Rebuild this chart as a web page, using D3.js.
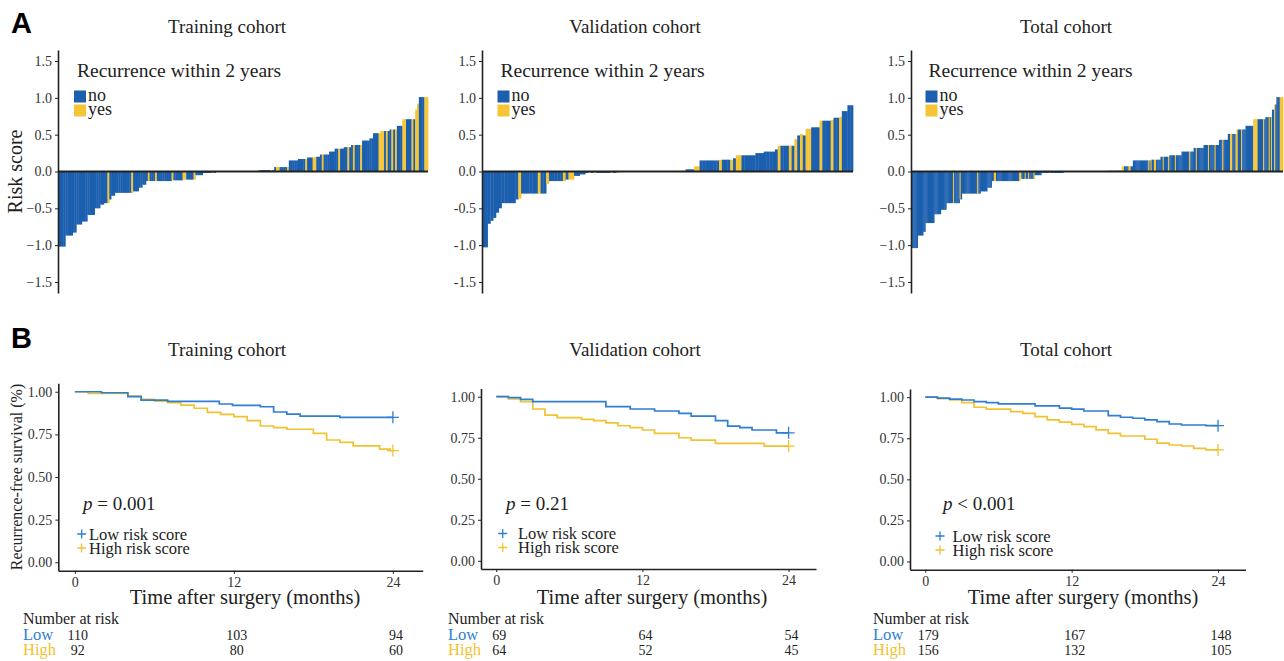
<!DOCTYPE html>
<html>
<head>
<meta charset="utf-8">
<script src="https://cdn.jsdelivr.net/npm/d3@7"></script>
<style>
  body { margin: 0; background: #fff; }
  text { font-family: "Liberation Serif", "Times New Roman", serif; }
</style>
</head>
<body>
<svg id="chart" width="1284" height="661"></svg>
<script>
// ---- waterfall data: risk score level, and one letter per patient (n = no recurrence, y = recurrence)
const trainLevels = [-1.02, -0.87, -0.83, -0.72, -0.68, -0.59, -0.50, -0.45, -0.43, -0.38, -0.33, -0.29, -0.27, -0.22, -0.18, -0.13,
  -0.13, -0.12, -0.11, -0.05, -0.02, 0, 0.02, 0.06, 0.15, 0.17, 0.19, 0.20, 0.23, 0.27, 0.31, 0.33, 0.36, 0.42, 0.45, 0.52,
  0.55, 0.57, 0.62, 0.71, 0.84, 0.92, 1.01, 1.01]
const trainRecur = ['nnnn', 'nnnn', 'nn', 'nnn', 'nnn', 'nnnn', 'nnn', 'nn', 'nny', 'n', 'nn', 'nnnnnnnnny', 'nnn', 'nn', 'nn', 'nyn',
  'nnynnnnnnnn', 'ynnnnn', 'yynnnny', 'nnnn', 'nnnnnyn', 'nnnnnnnnnnnnnnnnnnnnnnn', 'ynnnnnnyn', 'nyynnnny', 'nnnnn', 'nnnny', 'nnny', 'ynn', 'nynnn', 'nnn', 'nnynn', 'nnyn',
  'nynnny', 'nnnn', 'nn', 'nnny', 'yynyn', 'nyny', 'nnn', 'yynnnyn', 'y', 'y', 'nnn', 'yy']

const validLevels = [-1.03, -0.71, -0.67, -0.63, -0.56, -0.50, -0.43, -0.38, -0.37, -0.30, -0.30, -0.30, -0.17, -0.13, -0.11, -0.06,
  -0.04, -0.02, 0, 0.01, 0.03, 0.07, 0.15, 0.16, 0.16, 0.16, 0.18, 0.22, 0.22, 0.25, 0.27, 0.30, 0.35, 0.35, 0.35, 0.44,
  0.49, 0.51, 0.49, 0.58, 0.60, 0.69, 0.69, 0.70, 0.73, 0.74, 0.82, 0.90]
const validRecur = ['nn', 'n', 'n', 'n', 'n', 'n', 'nnnnn', 'n', 'y', 'nnnnnn', 'y', 'nn', 'y', 'nnnnny', 'nyy', 'nn',
  'nn', 'nynynnnnnyny', 'nnnnnnnnnnnnnnnnnnnnnn', 'yy', 'nnn', 'yy', 'nnnnnnn', 'y', 'nnn', 'y', 'n', 'yy', 'nnnnn', 'nnn', 'nnnn', 'n', 'y', 'nnny', 'n', 'y',
  'n', 'y', 'n', 'yy', 'nnn', 'y', 'nnn', 'y', 'nn', 'y', 'nn', 'nn']

const totalLevels = [-1.04, -0.87, -0.82, -0.70, -0.58, -0.52, -0.43, -0.43, -0.38, -0.30, -0.27, -0.22, -0.13, -0.13, -0.10, -0.05,
  -0.02, 0, 0.01, 0.07, 0.15, 0.16, 0.20, 0.22, 0.27, 0.32, 0.36, 0.43, 0.51, 0.57, 0.62, 0.71, 0.74, 0.84, 0.91, 1.01]
const totalRecur = ['nnnnnn', 'nnnnn', 'nn', 'nnnnnnnn', 'nnnnnn', 'nnnnn', 'nnnnnn', 'ynnnnn', 'yn', 'nnnnnnnnnnnnnnynn', 'nnnnnn', 'nnnn', 'nnyynn', 'nnnnnnnnnnnnnnnnnnny', 'ynnnynnynnnny', 'nnnnnn',
  'nnnnnnnynnnnnnnnnnnn', 'nnnnnnnnnnnnnnnnnnnnnnnnnnnnnnnnnnnnnnnn', 'nnnnynnnnnnnn', 'yynnnnyynn', 'nnnnnnnnnnnnnnyn', 'ynnyynnnn', 'nnynnnny', 'nnnnnynnnnn', 'nnnnnnnynnn', 'nnynnnnnn',
  'nnnnynnnnnynnn', 'nnnynnnn', 'nnyynnny', 'ynnnynnn', 'nnnnnnn', 'yyyynnnnnyn', 'nnnyny', 'nn', 'yn', 'nnnyyy']

const scoreTicks = [-1.5, -1, -0.5, 0, 0.5, 1, 1.5]

// ---- Kaplan-Meier data: step times (months) and survival after each step
const trainLowTimes = [0, 2, 4, 5, 7, 10.9, 11.9, 14, 15, 16, 17, 20, 24]
const trainLowSurv = [1, 0.994, 0.971, 0.951, 0.944, 0.928, 0.920, 0.912, 0.881, 0.869, 0.857, 0.850, 0.850]
const trainHighTimes = [0, 1, 4, 5, 6, 7, 8, 9, 10, 11, 12, 13, 14, 15, 16, 18, 19, 20, 21, 23, 23.8, 24]
const trainHighSurv = [1, 0.990, 0.975, 0.955, 0.945, 0.936, 0.922, 0.903, 0.879, 0.867, 0.854, 0.830, 0.799, 0.789, 0.780, 0.756, 0.717, 0.703, 0.682, 0.664, 0.655, 0.655]

const validLowTimes = [0, 1, 2, 3, 9, 11, 13, 15, 16, 18, 19, 20, 21, 23, 24]
const validLowSurv = [1, 0.994, 0.984, 0.970, 0.939, 0.925, 0.913, 0.899, 0.882, 0.854, 0.821, 0.811, 0.797, 0.780, 0.780]
const validHighTimes = [0, 1, 2, 3, 4, 5, 7, 8, 9, 10, 11, 12, 13, 15, 16, 18, 22, 24]
const validHighSurv = [1, 0.986, 0.970, 0.925, 0.888, 0.872, 0.862, 0.854, 0.841, 0.823, 0.811, 0.797, 0.777, 0.750, 0.736, 0.716, 0.699, 0.699]

const totalLowTimes = [0, 1, 2, 3, 4, 5, 6, 9, 11, 12, 13, 15, 16, 17, 18, 19, 20, 21, 23, 24]
const totalLowSurv = [1, 0.994, 0.988, 0.983, 0.973, 0.967, 0.959, 0.947, 0.933, 0.927, 0.916, 0.888, 0.878, 0.872, 0.862, 0.851, 0.837, 0.831, 0.827, 0.827]
const totalHighTimes = [0, 1, 2, 3, 4, 5, 7, 8, 9, 10, 11, 12, 13, 14, 15, 16, 18, 19, 20, 21, 22, 23, 24]
const totalHighSurv = [1, 0.991, 0.983, 0.967, 0.939, 0.927, 0.912, 0.902, 0.882, 0.862, 0.848, 0.835, 0.821, 0.801, 0.780, 0.764, 0.744, 0.720, 0.709, 0.703, 0.689, 0.679, 0.679]

const riskTimes = [0, 12, 24]
const trainRiskLow = [110, 103, 94]
const trainRiskHigh = [92, 80, 60]
const validRiskLow = [69, 64, 54]
const validRiskHigh = [64, 52, 45]
const totalRiskLow = [179, 167, 148]
const totalRiskHigh = [156, 132, 105]

const survTicks = [0, 0.25, 0.5, 0.75, 1]
const timeTicks = [0, 12, 24]

const cohortTitles = ['Training cohort', 'Validation cohort', 'Total cohort']
const pTexts = [['=', '0.001'], ['=', '0.21'], ['<', '0.001']]

// colours
const barBlue = '#1b5fae'
const barYellow = '#f6c535'
const lineBlue = '#2f7ed3'
const lineYellow = '#f1c232'
const ink = '#222'

const svg = d3.select('#chart')

// panel letters
svg.append('text').attr('x', 11).attr('y', 33).text('A')
  .style('font-family', 'Liberation Sans, Arial, sans-serif').style('font-weight', 'bold').style('font-size', '29px')
svg.append('text').attr('x', 11).attr('y', 348).text('B')
  .style('font-family', 'Liberation Sans, Arial, sans-serif').style('font-weight', 'bold').style('font-size', '29px')

/**
 * Waterfall of risk scores for one cohort
 */
function drawWaterfall (p, levels, recur, title) {
  const bars = []
  levels.forEach(function (v, i) {
    for (const c of recur[i]) bars.push({ score: v, yes: c === 'y' })
  })
  const x = d3.scaleBand().domain(d3.range(bars.length)).range([p.left, p.right]).padding(0)
  const y = d3.scaleLinear().domain([-1.65, 1.65]).range([293, 50])
  const g = svg.append('g')

  g.selectAll('rect.bar')
    .data(bars)
    .join('rect')
    .attr('class', 'bar')
    .attr('x', (d, i) => x(i))
    .attr('width', x.bandwidth() + 0.35)
    .attr('y', d => y(Math.max(0, d.score)))
    .attr('height', d => Math.abs(y(d.score) - y(0)))
    .attr('fill', d => d.yes ? barYellow : barBlue)

  const fmt = d3.format('.1f')
  const axis = g.append('g')
    .attr('transform', `translate(${p.left},0)`)
    .attr('color', ink)
    .call(d3.axisLeft(y).tickValues(scoreTicks).tickSize(3).tickSizeOuter(0)
      .tickFormat(d => p.hyphen ? fmt(d).replace('\u2212', '-') : fmt(d)))
  axis.select('.domain').attr('stroke-width', 1.6)
  axis.selectAll('text').style('font-size', '14px').attr('fill', '#333')

  // zero line
  g.append('line')
    .attr('x1', p.left).attr('x2', p.right)
    .attr('y1', y(0)).attr('y2', y(0))
    .attr('stroke', ink).attr('stroke-width', 2)

  g.append('text').attr('x', p.titleX).attr('y', 33).attr('text-anchor', 'middle')
    .style('font-size', '19px').attr('fill', ink).text(title)

  if (p.yLabel) {
    g.append('text').attr('transform', `translate(22,${y(0)}) rotate(-90)`).attr('text-anchor', 'middle')
      .style('font-size', '20px').attr('fill', ink).text('Risk score')
  }

  // legend
  g.append('text').attr('x', p.legendX + 3).attr('y', 77).style('font-size', '19.5px').attr('fill', ink)
    .text('Recurrence within 2 years')
  const keys = [['no', barBlue], ['yes', barYellow]]
  keys.forEach(function (k, i) {
    g.append('rect').attr('x', p.legendX).attr('y', 90.5 + i * 14).attr('width', 12).attr('height', 12).attr('fill', k[1])
    g.append('text').attr('x', p.legendX + 14).attr('y', 100.5 + i * 14).style('font-size', '18px').attr('fill', ink).text(k[0])
  })
}

/**
 * Kaplan-Meier curves with risk table for one cohort
 */
function drawKM (p, low, high, riskLow, riskHigh, title, pText) {
  const x = d3.scaleLinear().domain([-1.25, 26.25]).range([p.left, p.right])
  const y = d3.scaleLinear().domain([-0.05, 1.05]).range([p.bottom, p.top])
  const g = svg.append('g')

  const yAxis = g.append('g')
    .attr('transform', `translate(${p.left},0)`)
    .attr('color', ink)
    .call(d3.axisLeft(y).tickValues(survTicks).tickFormat(d3.format('.2f')).tickSize(3).tickSizeOuter(0))
  yAxis.select('.domain').attr('stroke-width', 1.6)
  yAxis.selectAll('text').style('font-size', '14px').attr('fill', '#333')

  const xAxis = g.append('g')
    .attr('transform', `translate(0,${p.bottom})`)
    .attr('color', ink)
    .call(d3.axisBottom(x).tickValues(timeTicks).tickSize(3).tickSizeOuter(0))
  xAxis.select('.domain').attr('stroke-width', 1.6)
  xAxis.selectAll('text').style('font-size', '14px').attr('fill', '#333')

  const line = d3.line().x(d => x(d[0])).y(d => y(d[1])).curve(d3.curveStepAfter)
  const curves = [[high, lineYellow], [low, lineBlue]]
  curves.forEach(function (c) {
    const pts = d3.zip(c[0][0], c[0][1])
    g.append('path').datum(pts).attr('d', line)
      .attr('fill', 'none').attr('stroke', c[1]).attr('stroke-width', 1.7)
    const last = pts[pts.length - 1]
    g.append('path')
      .attr('d', `M${x(last[0]) - 6},${y(last[1])}h12M${x(last[0])},${y(last[1]) - 6}v12`)
      .attr('stroke', c[1]).attr('stroke-width', 1.3)
  })

  g.append('text').attr('x', p.titleX).attr('y', 356).attr('text-anchor', 'middle')
    .style('font-size', '19px').attr('fill', ink).text(title)

  if (p.yLabel) {
    g.append('text').attr('transform', `translate(22,${(p.top + p.bottom) / 2}) rotate(-90)`).attr('text-anchor', 'middle')
      .style('font-size', '16px').attr('fill', ink).text('Recurrence-free survival (%)')
  }

  g.append('text').attr('x', p.xLabelX).attr('y', 604).attr('text-anchor', 'middle')
    .style('font-size', '20.5px').attr('fill', ink).text('Time after surgery (months)')

  const pt = g.append('text').attr('x', p.pX).attr('y', 510).style('font-size', '19px').attr('fill', ink)
  pt.append('tspan').style('font-style', 'italic').text('p')
  pt.append('tspan').text(` ${pText[0]} ${pText[1]}`)

  // legend
  const keys = [['Low risk score', lineBlue], ['High risk score', lineYellow]]
  keys.forEach(function (k, i) {
    const cy = p.legY + i * 14
    g.append('path').attr('d', `M${p.legX - 4.5},${cy}h9M${p.legX},${cy - 4.5}v9`)
      .attr('stroke', k[1]).attr('stroke-width', 1.3)
    g.append('text').attr('x', p.legTextX).attr('y', cy + 5.5).style('font-size', '16.5px').attr('fill', ink).text(k[0])
  })

  // number at risk table
  g.append('text').attr('x', p.riskX).attr('y', 624).style('font-size', '16px').attr('fill', ink).text('Number at risk')
  const rows = [['Low', lineBlue, riskLow, 639.5], ['High', lineYellow, riskHigh, 655]]
  rows.forEach(function (r) {
    g.append('text').attr('x', p.riskX).attr('y', r[3]).style('font-size', '16.5px').attr('fill', r[1]).text(r[0])
    g.selectAll(null)
      .data(r[2])
      .join('text')
      .attr('x', (d, i) => x(riskTimes[i]) + 3)
      .attr('y', r[3])
      .attr('text-anchor', 'middle')
      .style('font-size', '14px')
      .attr('fill', ink)
      .text(d => d)
  })
}

drawWaterfall({ left: 58, right: 428, titleX: 227, legendX: 74, yLabel: true }, trainLevels, trainRecur, cohortTitles[0])
drawWaterfall({ left: 482, right: 853, titleX: 635, legendX: 497.5, hyphen: true }, validLevels, validRecur, cohortTitles[1])
drawWaterfall({ left: 911, right: 1283, titleX: 1066, legendX: 925.5 }, totalLevels, totalRecur, cohortTitles[2])

drawKM({ left: 58.3, right: 422.7, top: 383.2, bottom: 570.8, titleX: 227, xLabelX: 245, pX: 83, legX: 81.7, legY: 534, legTextX: 89, riskX: 23, yLabel: true },
  [trainLowTimes, trainLowSurv], [trainHighTimes, trainHighSurv], trainRiskLow, trainRiskHigh, cohortTitles[0], pTexts[0])
drawKM({ left: 481, right: 816, top: 388.5, bottom: 569, titleX: 635, xLabelX: 652, pX: 506, legX: 502.7, legY: 533.5, legTextX: 518, riskX: 448 },
  [validLowTimes, validLowSurv], [validHighTimes, validHighSurv], validRiskLow, validRiskHigh, cohortTitles[1], pTexts[1])
drawKM({ left: 910, right: 1245.5, top: 389, bottom: 569.7, titleX: 1066, xLabelX: 1083, pX: 943, legX: 940, legY: 536, legTextX: 952.5, riskX: 873 },
  [totalLowTimes, totalLowSurv], [totalHighTimes, totalHighSurv], totalRiskLow, totalRiskHigh, cohortTitles[2], pTexts[2])
</script>
</body>
</html>
